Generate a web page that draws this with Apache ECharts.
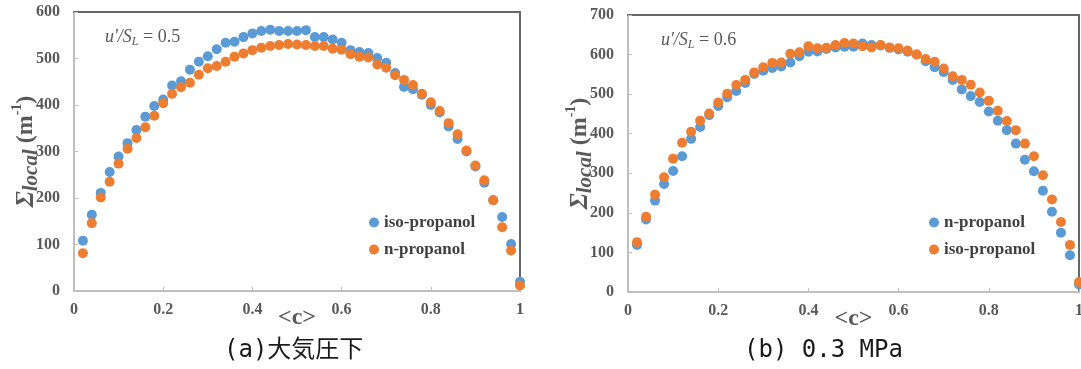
<!DOCTYPE html>
<html>
<head>
<meta charset="utf-8">
<script src="https://cdn.jsdelivr.net/npm/echarts@6/dist/echarts.min.js"></script>
<style>
  html, body { margin: 0; padding: 0; background: #fff; }
  #wrap { position: relative; width: 1081px; height: 369px; overflow: hidden; }
  #left { position: absolute; left: 0; top: 0; width: 540px; height: 369px; }
  #right { position: absolute; left: 540px; top: 0; width: 541px; height: 369px; }
</style>
</head>
<body>
<div id="wrap"><div id="left"></div><div id="right"></div></div>
<script>
// progress variable <c>
const cValues = [0.02,0.04,0.06,0.08,0.10,0.12,0.14,0.16,0.18,0.20,
                 0.22,0.24,0.26,0.28,0.30,0.32,0.34,0.36,0.38,0.40,
                 0.42,0.44,0.46,0.48,0.50,0.52,0.54,0.56,0.58,0.60,
                 0.62,0.64,0.66,0.68,0.70,0.72,0.74,0.76,0.78,0.80,
                 0.82,0.84,0.86,0.88,0.90,0.92,0.94,0.96,0.98,1.00];

// (a) atmospheric pressure, u'/SL = 0.5
const leftIsoPropanol = [108,164,211,256,289,318,346,375,398,412,
                         442,451,476,493,505,520,534,536,546,554,
                         559,562,559,559,559,561,546,546,541,534,
                         518,514,512,501,491,469,439,434,422,400,
                         384,354,327,300,268,233,195,159,101,20];
const leftNPropanol = [81,146,201,235,274,306,329,352,377,404,
                       424,438,448,465,479,484,493,504,511,518,
                       523,527,529,531,530,529,527,527,521,519,
                       509,504,502,487,480,464,454,443,424,406,
                       387,361,337,302,270,238,195,137,87,12];

// (b) 0.3 MPa, u'/SL = 0.6
const rightNPropanol = [119,183,231,273,306,343,387,417,447,470,
                        492,508,528,551,559,566,570,580,596,607,
                        608,614,618,620,620,628,624,623,617,613,
                        607,600,583,568,556,536,512,495,480,456,
                        433,409,375,334,305,256,203,150,93,19];
const rightIsoPropanol = [126,190,246,290,337,377,405,433,451,479,
                          501,523,536,555,568,579,580,602,606,621,
                          616,617,624,629,628,621,618,624,618,616,
                          610,600,589,582,565,545,536,524,504,483,
                          458,432,409,375,343,295,234,177,119,25];

const leftYMax = 600, rightYMax = 700;
const captions = ['(a)大気圧下', '(b) 0.3 MPa'];
const ratios = ['0.5', '0.6'];

const BLUE = '#5B9BD5', ORANGE = '#ED7D31';
const SERIF = '"Liberation Serif", "Times New Roman", serif';
const LABEL = '#595959';

function pairs(vals) { return cValues.map((c, i) => [c, vals[i]]); }

function makeOption(cfg) {
  const g = cfg.grid;
  const yName = '{s|Σ}{sub|local}{n| (m}{sup|-1}{n|)}';
  return {
    animation: false,
    grid: { left: g.left, top: g.top, width: g.width, height: g.height,
            containLabel: false, outerBoundsMode: 'none' },
    xAxis: [{
      type: 'value', min: 0, max: 1, interval: 0.2,
      axisLine: { show: true, onZero: false, lineStyle: { color: '#BFBFBF', width: 2 } },
      axisTick: { show: true, inside: true, length: 4, lineStyle: { color: '#BFBFBF', width: 1 } },
      splitLine: { show: false },
      axisLabel: { margin: 11, color: LABEL, fontFamily: SERIF, fontWeight: 'bold', fontSize: 16,
                   formatter: v => String(+v.toFixed(1)) },
      name: '<c>', nameLocation: 'middle', nameGap: 15, nameMoveOverlap: false,
      nameTextStyle: { color: LABEL, fontFamily: SERIF, fontWeight: 'bold', fontSize: 24 }
    }, {
      type: 'value', min: 0, max: 1, position: 'top',
      axisLine: { show: true, onZero: false, lineStyle: { color: '#666666', width: 2 } },
      axisTick: { show: false }, axisLabel: { show: false }, splitLine: { show: false }
    }],
    yAxis: [{
      type: 'value', min: 0, max: cfg.yMax, interval: 100,
      axisLine: { show: true, onZero: false, lineStyle: { color: '#BFBFBF', width: 2 } },
      axisTick: { show: true, inside: true, length: 4, lineStyle: { color: '#BFBFBF', width: 1 } },
      splitLine: { show: false },
      axisLabel: { margin: 14, color: LABEL, fontFamily: SERIF, fontWeight: 'bold', fontSize: 16 },
      name: yName, nameLocation: 'middle', nameGap: 32, nameRotate: 90, nameMoveOverlap: false,
      nameTextStyle: {
        color: LABEL, fontFamily: SERIF, fontWeight: 'bold',
        rich: {
          s: { fontFamily: SERIF, fontWeight: 'bold', fontStyle: 'italic', fontSize: 26, color: LABEL, lineHeight: 32, verticalAlign: 'middle' },
          sub: { fontFamily: SERIF, fontWeight: 'bold', fontStyle: 'italic', fontSize: 21, color: LABEL, lineHeight: 21, verticalAlign: 'bottom' },
          n: { fontFamily: SERIF, fontWeight: 'bold', fontSize: 24, color: LABEL, lineHeight: 32, verticalAlign: 'middle' },
          sup: { fontFamily: SERIF, fontWeight: 'bold', fontSize: 14, color: LABEL, lineHeight: 14, verticalAlign: 'top' }
        }
      }
    }, {
      type: 'value', min: 0, max: cfg.yMax, position: 'right',
      axisLine: { show: true, onZero: false, lineStyle: { color: '#666666', width: 2 } },
      axisTick: { show: false }, axisLabel: { show: false }, splitLine: { show: false }
    }],
    legend: {
      orient: 'vertical', left: cfg.legendLeft, top: 209,
      icon: 'circle', itemWidth: 10, itemHeight: 10, itemGap: 10,
      textStyle: { color: '#404040', fontFamily: SERIF, fontWeight: 'bold', fontSize: 17 },
      data: cfg.series.map(s => s.name)
    },
    series: cfg.series.map(s => ({
      type: 'scatter', name: s.name, xAxisIndex: 0, yAxisIndex: 0,
      symbol: 'circle', symbolSize: 10,
      itemStyle: { color: s.color, opacity: 1 },
      data: pairs(s.values)
    })),
    graphic: [{
      type: 'text', left: cfg.noteLeft, top: cfg.noteTop,
      style: {
        text: '{i|u\'/S}{sub|L}{n| = ' + cfg.ratio + '}',
        fill: LABEL,
        rich: {
          i: { fontFamily: SERIF, fontStyle: 'italic', fontSize: 18, fill: LABEL, lineHeight: 22, verticalAlign: 'middle' },
          sub: { fontFamily: SERIF, fontStyle: 'italic', fontSize: 12, fill: LABEL, lineHeight: 12, verticalAlign: 'bottom' },
          n: { fontFamily: SERIF, fontSize: 18, fill: LABEL, lineHeight: 22, verticalAlign: 'middle' }
        }
      }
    }, {
      type: 'text', left: cfg.captionLeft, top: 339,
      style: {
        text: cfg.caption, fill: '#1a1a1a',
        font: '24px "DejaVu Sans Mono", "Noto Sans CJK JP", monospace'
      }
    }]
  };
}

const leftChart = echarts.init(document.getElementById('left'));
leftChart.setOption(makeOption({
  grid: { left: 74, top: 12, width: 446, height: 279 },
  yMax: leftYMax, legendLeft: 364, noteLeft: 105, noteTop: 28,
  ratio: ratios[0], caption: captions[0], captionLeft: 224,
  series: [
    { name: 'iso-propanol', color: BLUE, values: leftIsoPropanol },
    { name: 'n-propanol', color: ORANGE, values: leftNPropanol }
  ]
}));

const rightChart = echarts.init(document.getElementById('right'));
rightChart.setOption(makeOption({
  grid: { left: 88, top: 15, width: 451, height: 277 },
  yMax: rightYMax, legendLeft: 384, noteLeft: 121, noteTop: 31,
  ratio: ratios[1], caption: captions[1], captionLeft: 204,
  series: [
    { name: 'n-propanol', color: BLUE, values: rightNPropanol },
    { name: 'iso-propanol', color: ORANGE, values: rightIsoPropanol }
  ]
}));
</script>
</body>
</html>
